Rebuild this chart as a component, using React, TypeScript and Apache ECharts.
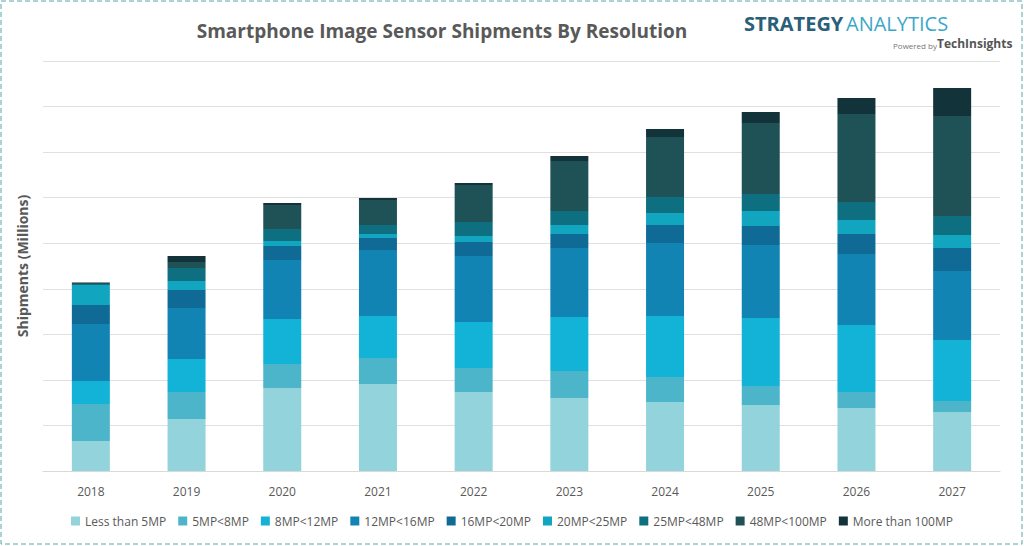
import { useEffect, useRef } from "react";
import * as echarts from "echarts";

const years = ["2018", "2019", "2020", "2021", "2022", "2023", "2024", "2025", "2026", "2027"];
const seriesNames = ["Less than 5MP", "5MP<8MP", "8MP<12MP", "12MP<16MP", "16MP<20MP", "20MP<25MP", "25MP<48MP", "48MP<100MP", "More than 100MP"];
const colors = ["#93d3dc", "#4cb5c9", "#12b3d6", "#1284b4", "#0f6b95", "#11a5c0", "#0d6f80", "#1f5257", "#13333a"];

// shipments (relative units)
const less5 = [30, 52, 83, 87, 79, 73, 69, 66, 63, 59];
const mp5to8 = [37, 27, 24, 26, 24, 27, 25, 19, 16, 11];
const mp8to12 = [23, 33, 45, 42, 46, 54, 61, 68, 67, 61];
const mp12to16 = [57, 51, 59, 66, 66, 69, 73, 73, 71, 69];
const mp16to20 = [19, 18, 14, 12, 14, 14, 18, 19, 20, 23];
const mp20to25 = [20, 9, 5, 4, 6, 9, 12, 15, 14, 13];
const mp25to48 = [1, 13, 12, 9, 14, 14, 16, 17, 18, 19];
const mp48to100 = [1, 6, 24, 25, 37, 50, 60, 71, 88, 100];
const more100 = [0.5, 6, 2, 2, 2, 5, 8, 11, 16, 28];
const allValues = [less5, mp5to8, mp8to12, mp12to16, mp16to20, mp20to25, mp25to48, mp48to100, more100];

export default function App() {
  const ref = useRef<HTMLDivElement>(null);

  useEffect(() => {
    if (!ref.current) return;
    const chart = echarts.init(ref.current, null, { renderer: "svg" });
    chart.setOption({
      animation: false,
      backgroundColor: "#fff",
      title: {
        text: "Smartphone Image Sensor Shipments By Resolution",
        left: 437,
        textAlign: "center",
        top: 16,
        textStyle: { fontFamily: "Open Sans", fontSize: 19, fontWeight: "bold", color: "#595959" },
      },
      graphic: [
        { type: "rect", shape: { x: 1, y: 1, width: 1021, height: 543 }, style: { fill: "none", stroke: "#5aa5a5", lineWidth: 1, lineDash: [5, 3] } },
        { type: "text", left: 744, top: 13, style: { text: "STRATEGY", font: "bold 20px Open Sans", fill: "#2a5f7a" } },
        { type: "text", left: 846, top: 13, style: { text: "ANALYTICS", font: "20px Open Sans", fill: "#3aa8c8" } },
        { type: "text", left: 893, top: 41, style: { text: "Powered by", font: "8px Open Sans", fill: "#777" } },
        { type: "text", left: 937, top: 37, style: { text: "TechInsights", font: "bold 12px Open Sans", fill: "#555" } },
      ],
      legend: {
        bottom: 14,
        left: "center",
        itemWidth: 9,
        itemHeight: 9,
        itemGap: 12,
        icon: "rect",
        textStyle: { fontFamily: "Open Sans", fontSize: 12, color: "#595959" },
        data: seriesNames,
      },
      grid: { left: 43, right: 24, top: 61, bottom: 75 },
      xAxis: {
        type: "category",
        data: years,
        axisLine: { lineStyle: { color: "#d9d9d9" } },
        axisTick: { show: false },
        axisLabel: { fontFamily: "Open Sans", fontSize: 12, color: "#595959", margin: 14 },
      },
      yAxis: {
        type: "value",
        min: 0,
        max: 410,
        interval: 410 / 9,
        name: "Shipments (Millions)",
        nameLocation: "middle",
        nameGap: 14,
        nameTextStyle: { fontFamily: "Open Sans", fontSize: 14, fontWeight: "bold", color: "#595959" },
        axisLabel: { show: false },
        splitLine: { lineStyle: { color: "#e0e0e0" } },
      },
      series: seriesNames.map((name, i) => ({
        name,
        type: "bar",
        stack: "total",
        barWidth: 38,
        color: colors[i],
        data: allValues[i],
      })),
    });
    return () => chart.dispose();
  }, []);

  return <div ref={ref} style={{ position: "absolute", left: 0, top: 0, width: 1024, height: 546 }} />;
}
